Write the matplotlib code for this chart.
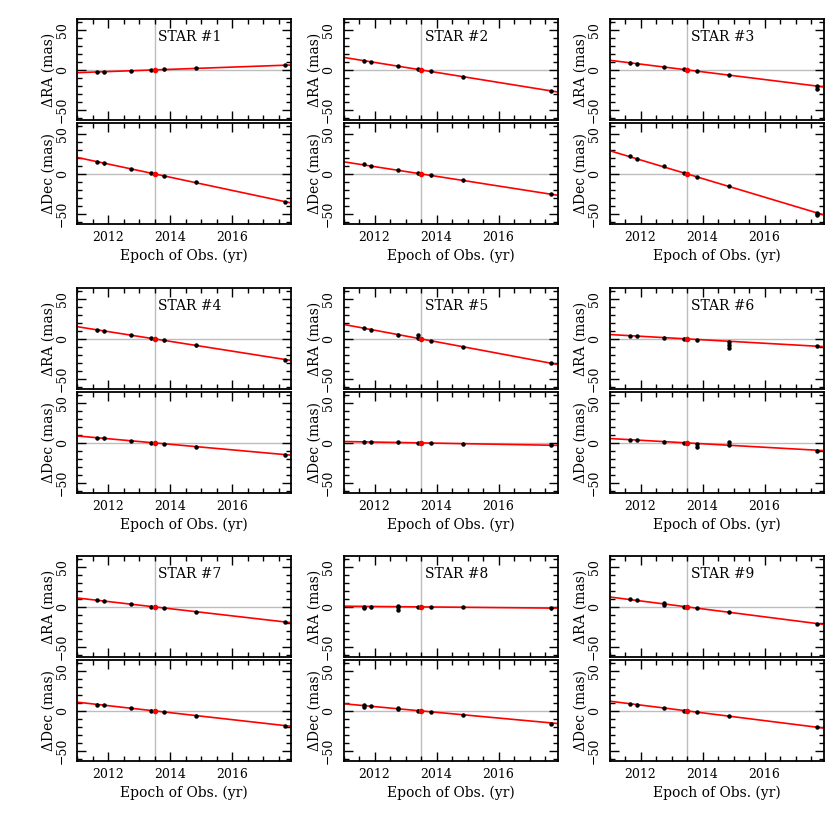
import matplotlib
matplotlib.use("Agg")
import matplotlib.pyplot as plt
from matplotlib.ticker import MultipleLocator

plt.rcParams['font.family'] = ['DejaVu Serif']

# ---------------- data ----------------
epochs = [2011.66, 2011.88, 2012.75, 2013.40, 2013.82, 2014.85, 2017.70]
ref_epoch = 2013.5

star_names = ["STAR #1", "STAR #2", "STAR #3", "STAR #4", "STAR #5",
              "STAR #6", "STAR #7", "STAR #8", "STAR #9"]

# proper-motion fit slopes (mas/yr)
mu_ra = [1.4, -6.3, -4.85, -6.15, -7.3, -2.2, -4.5, -0.35, -5.0]
mu_dec = [-8.3, -6.1, -11.7, -3.5, -0.7, -2.2, -4.4, -3.6, -4.9]

ra_1 = [-3.0, -2.5, -1.2, -0.5, 0.6, 2.0, 6.3]
ra_2 = [11.7, 10.2, 4.7, 0.6, -2.0, -8.5, -26.3]
ra_3 = [9.2, 7.9, 3.6, 0.5, -1.6, -6.5, -20.4]
ra_4 = [10.8, 10.0, 4.6, 0.6, -2.0, -8.3, -26.3]
ra_5 = [13.3, 11.8, 5.5, 0.7, -2.3, -9.9, -30.2]
ra_6 = [3.8, 3.8, 1.7, 0.4, -1.3, -3.3, -9.2]
ra_7 = [8.3, 7.3, 3.4, 0.5, -1.4, -6.1, -18.8]
ra_8 = [0.5, 0.4, 0.2, 0.0, -0.1, -0.4, -1.8]
ra_9 = [10.0, 8.3, 4.6, 0.5, -1.6, -6.8, -21.2]

dec_1 = [15.4, 13.3, 6.2, 1.2, -2.5, -10.8, -35.0]
dec_2 = [12.0, 9.9, 4.6, 0.6, -2.0, -8.2, -25.4]
dec_3 = [22.5, 19.2, 9.6, 1.2, -4.2, -15.0, -49.6]
dec_4 = [6.4, 5.7, 2.6, 0.4, -1.1, -4.7, -14.7]
dec_5 = [1.7, 1.1, 0.5, 0.1, -0.2, -0.9, -2.9]
dec_6 = [3.8, 3.3, 1.7, 0.0, -1.3, -2.9, -9.6]
dec_7 = [7.9, 7.1, 3.3, 0.4, -1.4, -5.9, -19.2]
dec_8 = [7.5, 5.8, 3.3, 0.4, -1.7, -5.0, -16.3]
dec_9 = [8.3, 7.9, 3.7, 0.5, -1.6, -6.6, -20.6]

ra_vals = [ra_1, ra_2, ra_3, ra_4, ra_5, ra_6, ra_7, ra_8, ra_9]
dec_vals = [dec_1, dec_2, dec_3, dec_4, dec_5, dec_6, dec_7, dec_8, dec_9]

# additional measurements at repeated epochs: (star index, epoch, value)
extra_ra = [(2, 2017.70, -23.5), (4, 2013.40, 4.3), (5, 2014.85, -7.5),
            (5, 2014.85, -11.7), (7, 2011.66, -1.0), (7, 2012.75, -3.5),
            (7, 2012.75, 1.5), (8, 2012.75, 2.5)]
extra_dec = [(2, 2017.70, -52.0), (5, 2013.82, -4.6), (5, 2014.85, 1.3),
             (7, 2011.66, 5.5), (7, 2012.75, 2.0)]

ra_err = 1.5
dec_err = 1.5
xlim = (2011.0, 2017.9)
ylim = (-63, 64)

# ---------------- layout ----------------
W = H = 830
fig = plt.figure(figsize=(8.3, 8.3), dpi=100)

col_left = [77, 343.5, 609.5]
col_w = 214
row_top = [19, 288, 556]
panel_h = 101
gap = 3

grey = '#bdbdbd'


def style(ax, bottom_labels):
    ax.set_xlim(*xlim)
    ax.set_ylim(*ylim)
    ax.xaxis.set_major_locator(MultipleLocator(2))
    ax.xaxis.set_minor_locator(MultipleLocator(0.5))
    ax.yaxis.set_major_locator(MultipleLocator(50))
    ax.yaxis.set_minor_locator(MultipleLocator(10))
    ax.tick_params(which='both', direction='in', top=True, right=True,
                   width=1.0, color='black')
    ax.tick_params(which='major', length=6.5)
    ax.tick_params(which='minor', length=3.5)
    ax.tick_params(axis='y', labelrotation=90, labelsize=9, pad=6)
    ax.tick_params(axis='x', labelsize=9, pad=5, labelbottom=bottom_labels)
    for lab in ax.get_yticklabels():
        lab.set_verticalalignment('center')
    for s in ax.spines.values():
        s.set_linewidth(1.3)
    ax.axhline(0, color=grey, lw=1.0, zorder=1)
    ax.axvline(ref_epoch, color=grey, lw=1.0, zorder=1)


def draw(ax, mu, vals, extras, err, k):
    ax.plot(list(xlim), [mu * (xlim[0] - ref_epoch), mu * (xlim[1] - ref_epoch)],
            color='red', lw=1.2, zorder=2)
    ax.errorbar(epochs, vals, yerr=err, xerr=0.04, fmt='o', ms=2.2,
                color='black', ecolor='black', elinewidth=1.0, capsize=0, zorder=3)
    ex = [e for e in extras if e[0] == k]
    if ex:
        ax.errorbar([e[1] for e in ex], [e[2] for e in ex], yerr=err, xerr=0.04,
                    fmt='o', ms=2.2, color='black', ecolor='black',
                    elinewidth=1.0, capsize=0, zorder=3)
    ax.plot([ref_epoch], [0], 'o', color='red', ms=3.0, zorder=4)


for k in range(9):
    r, c = divmod(k, 3)
    left = col_left[c] / W
    w = col_w / W
    top_ra = row_top[r]
    ax_ra = fig.add_axes([left, 1 - (top_ra + panel_h) / H, w, panel_h / H])
    top_dec = top_ra + panel_h + gap
    ax_dec = fig.add_axes([left, 1 - (top_dec + panel_h) / H, w, panel_h / H])

    style(ax_ra, False)
    style(ax_dec, True)
    draw(ax_ra, mu_ra[k], ra_vals[k], extra_ra, ra_err, k)
    draw(ax_dec, mu_dec[k], dec_vals[k], extra_dec, dec_err, k)

    ax_ra.set_ylabel('ΔRA (mas)', fontsize=10, labelpad=0)
    ax_dec.set_ylabel('ΔDec (mas)', fontsize=10, labelpad=0)
    ax_dec.set_xlabel('Epoch of Obs. (yr)', fontsize=10, labelpad=3)
    ax_ra.text(0.38, 0.82, star_names[k], transform=ax_ra.transAxes,
               fontsize=10, ha='left', va='center')

fig.savefig('out.png', dpi=100)
